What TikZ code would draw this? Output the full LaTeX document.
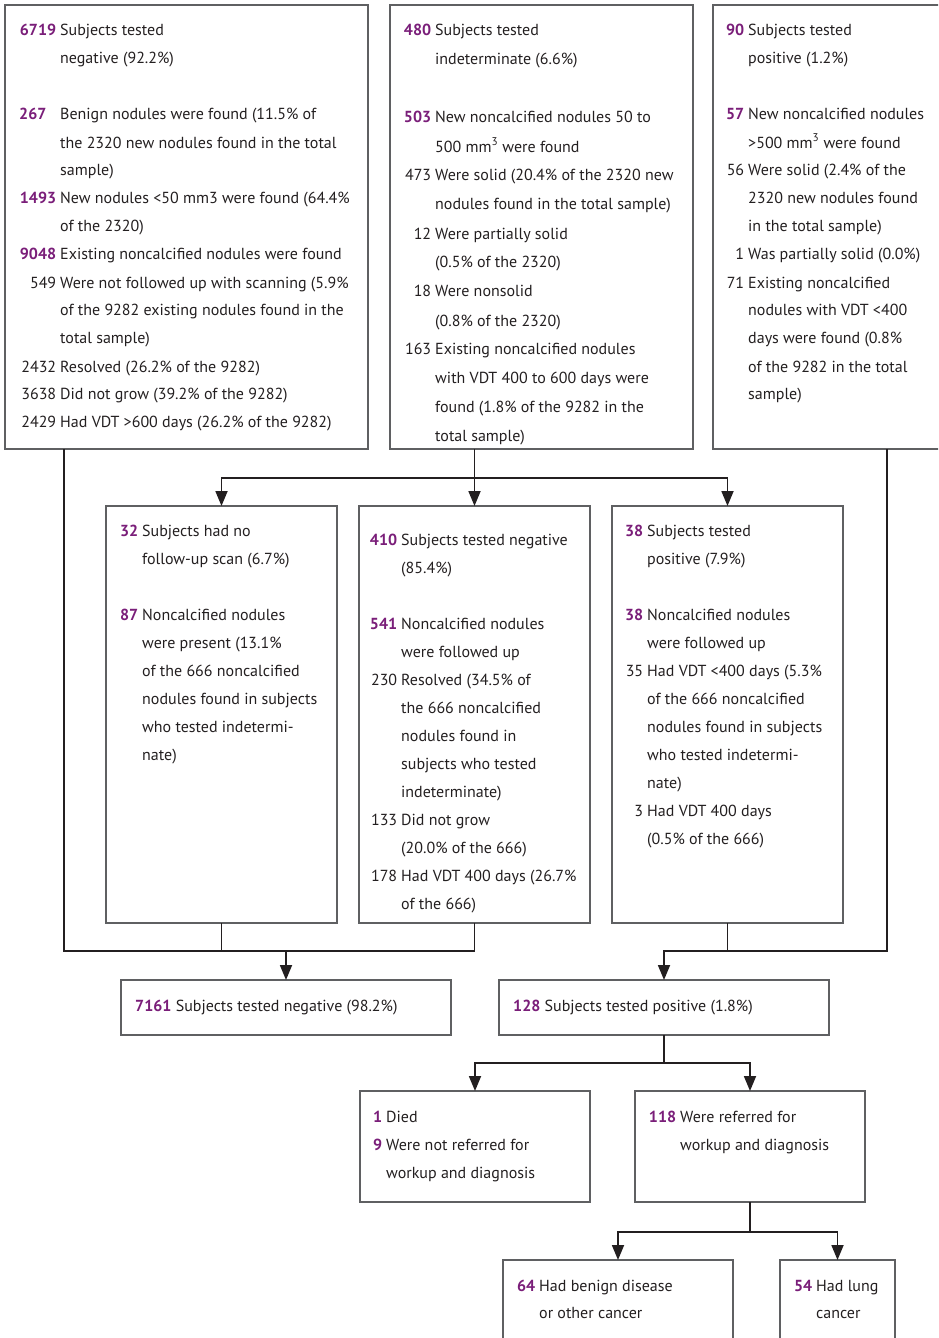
\documentclass[tikz,border=0pt]{standalone}
\usepackage{fontspec}
\setmainfont{PT Sans}
\usetikzlibrary{arrows.meta}
\definecolor{numpurple}{HTML}{7A1E79}
\definecolor{ink}{HTML}{231F20}
\definecolor{frame}{HTML}{5F6062}
\newlength\numw
\newcommand\pnum[1]{\textcolor{numpurple}{\bfseries #1}}
\newcommand\numb[2][r]{\makebox[\numw][#1]{\pnum{#2}\hspace{4pt}}}
\newcommand\numr[1]{\makebox[\numw][r]{#1\hspace{4pt}}}
\newcommand\cont{\hspace*{\numw}}

\begin{document}
\begin{tikzpicture}[x=1pt, y=-1pt,
    box/.style = {draw=frame, line width=1.2pt, anchor=north west, inner sep=0pt, outer sep=0pt},
    txt/.style = {anchor=base west, inner sep=0pt, text=ink, font=\fontsize{16}{28}\selectfont},
    nw/.style = {execute at begin node={\setlength\numw{#1}}},
    line/.style = {draw=ink, line width=1.8pt},
    arr/.style = {line, -{Triangle[length=15pt,width=12pt]}}]
\path[use as bounding box, clip] (0,0) rectangle (938,1338);

% boxes
\node[box, minimum width=363, minimum height=444] (tl) at (5,5) {};
\node[box, minimum width=303, minimum height=444] (tm) at (390,5) {};
\node[box, minimum width=348, minimum height=444] (tr) at (713,5) {};
\node[box, minimum width=231, minimum height=417] (ml) at (106,506) {};
\node[box, minimum width=231, minimum height=417] (mm) at (359,506) {};
\node[box, minimum width=231, minimum height=417] (mr) at (612,506) {};
\node[box, minimum width=330, minimum height=55] (neg) at (121,980) {};
\node[box, minimum width=330, minimum height=55] (pos) at (499,980) {};
\node[box, minimum width=230, minimum height=111] (died) at (360,1091) {};
\node[box, minimum width=230, minimum height=111] (ref) at (635,1091) {};
\node[box, minimum width=230, minimum height=120] (benign) at (503,1260) {};
\node[box, minimum width=115, minimum height=120] (lung) at (780,1260) {};

% texts
\node[txt, nw=41pt] (tl-t) at (19,36) {\begin{tabular}[t]{@{}l@{}}
\numb{6719}Subjects tested\\
\cont negative (92.2\%)\\
\\
\numb[l]{267}Benign nodules were found (11.5\% of\\
\cont the 2320 new nodules found in the total\\
\cont sample)\\
\numb{1493}New nodules <50 mm3 were found (64.4\%\\
\cont of the 2320)\\
\numb{9048}Existing noncalcified nodules were found\\
\numr{549}Were not followed up with scanning (5.9\%\\
\cont of the 9282 existing nodules found in the\\
\cont total sample)\\
\numr{2432}Resolved (26.2\% of the 9282)\\
\numr{3638}Did not grow (39.2\% of the 9282)\\
\numr{2429}Had VDT >600 days (26.2\% of the 9282)
\end{tabular}};
\node[txt, nw=30pt, font=\fontsize{16}{29}\selectfont] (tm-t) at (405,36) {\begin{tabular}[t]{@{}l@{}}
\numb{480}Subjects tested\\
\cont indeterminate (6.6\%)\\
\\
\numb{503}New noncalcified nodules 50 to\\
\cont 500 mm\textsuperscript{3} were found\\
\numr{473}Were solid (20.4\% of the 2320 new\\
\cont nodules found in the total sample)\\
\numr{12}Were partially solid\\
\cont (0.5\% of the 2320)\\
\numr{18}Were nonsolid\\
\cont (0.8\% of the 2320)\\
\numr{163}Existing noncalcified nodules\\
\cont with VDT 400 to 600 days were\\
\cont found (1.8\% of the 9282 in the\\
\cont total sample)
\end{tabular}};
\node[txt, nw=21pt] (tr-t) at (727,36) {\begin{tabular}[t]{@{}l@{}}
\numb{90}Subjects tested\\
\cont positive (1.2\%)\\
\\
\numb{57}New noncalcified nodules\\
\cont >500 mm\textsuperscript{3} were found\\
\numr{56}Were solid (2.4\% of the\\
\cont 2320 new nodules found\\
\cont in the total sample)\\
\numr{1}Was partially solid (0.0\%)\\
\numr{71}Existing noncalcified\\
\cont nodules with VDT <400\\
\cont days were found (0.8\%\\
\cont of the 9282 in the total\\
\cont sample)
\end{tabular}};
\node[txt, nw=22pt] (ml-t) at (120,536) {\begin{tabular}[t]{@{}l@{}}
\numb{32}Subjects had no\\
\cont follow-up scan (6.7\%)\\
\\
\numb{87}Noncalcified nodules\\
\cont were present (13.1\%\\
\cont of the 666 noncalcified\\
\cont nodules found in subjects\\
\cont who tested indetermi-\\
\cont nate)
\end{tabular}};
\node[txt, nw=28pt] (mm-t) at (373,545) {\begin{tabular}[t]{@{}l@{}}
\numb{410}Subjects tested negative\\
\cont (85.4\%)\\
\\
\numb{541}Noncalcified nodules\\
\cont were followed up\\
\numr{230}Resolved (34.5\% of\\
\cont the 666 noncalcified\\
\cont nodules found in\\
\cont subjects who tested\\
\cont indeterminate)\\
\numr{133}Did not grow\\
\cont (20.0\% of the 666)\\
\numr{178}Had VDT 400 days (26.7\%\\
\cont of the 666)
\end{tabular}};
\node[txt, nw=21pt] (mr-t) at (626,536) {\begin{tabular}[t]{@{}l@{}}
\numb{38}Subjects tested\\
\cont positive (7.9\%)\\
\\
\numb{38}Noncalcified nodules\\
\cont were followed up\\
\numr{35}Had VDT <400 days (5.3\%\\
\cont of the 666 noncalcified\\
\cont nodules found in subjects\\
\cont who tested indetermi-\\
\cont nate)\\
\numr{3}Had VDT 400 days\\
\cont (0.5\% of the 666)
\end{tabular}};
\node[txt] (neg-t) at (135,1011) {\pnum{7161} Subjects tested negative (98.2\%)};
\node[txt] (pos-t) at (513,1011) {\pnum{128} Subjects tested positive (1.8\%)};
\node[txt, nw=12pt] (died-t) at (374,1122) {\begin{tabular}[t]{@{}l@{}}
\numb{1}Died\\
\numb{9}Were not referred for\\
\cont workup and diagnosis
\end{tabular}};
\node[txt, nw=31pt] (ref-t) at (649,1122) {\begin{tabular}[t]{@{}l@{}}
\numb{118}Were referred for\\
\cont workup and diagnosis
\end{tabular}};
\node[txt, nw=22pt, font=\fontsize{16}{27}\selectfont] (benign-t) at (517,1291) {\begin{tabular}[t]{@{}l@{}}
\numb{64}Had benign disease\\
\cont or other cancer
\end{tabular}};
\node[txt, nw=22pt, font=\fontsize{16}{27}\selectfont] (lung-t) at (794,1291) {\begin{tabular}[t]{@{}l@{}}
\numb{54}Had lung\\
\cont cancer
\end{tabular}};

% connectors
\coordinate (bar1) at (0,478);
\coordinate (bar2) at (64,951);
\coordinate (bar3) at (887,951);
\coordinate (bar4) at (0,1063);
\coordinate (bar5) at (0,1232);
\draw[arr] (tm.south -| mm.north) -- (mm.north);
\draw[arr] (mm.north |- bar1) -- (ml.north |- bar1) -- (ml.north);
\draw[arr] (mm.north |- bar1) -- (mr.north |- bar1) -- (mr.north);
\draw[line] (tl.south -| bar2) -- (bar2) -- (mm.south |- bar2) -- (mm.south);
\draw[line] (ml.south) -- (ml.south |- bar2);
\draw[arr] (neg.north |- bar2) -- (neg.north);
\draw[arr] (tr.south -| bar3) -- (bar3) -- (pos.north |- bar3) -- (pos.north);
\draw[line] (mr.south) -- (mr.south |- bar3);
\draw[line] (pos.south) -- (pos.south |- bar4);
\draw[arr] (pos.south |- bar4) -- (died.north |- bar4) -- (died.north);
\draw[arr] (pos.south |- bar4) -- (ref.north |- bar4) -- (ref.north);
\draw[line] (ref.south) -- (ref.south |- bar5);
\draw[arr] (ref.south |- bar5) -- (benign.north |- bar5) -- (benign.north);
\draw[arr] (ref.south |- bar5) -- (lung.north |- bar5) -- (lung.north);
\end{tikzpicture}
\end{document}
